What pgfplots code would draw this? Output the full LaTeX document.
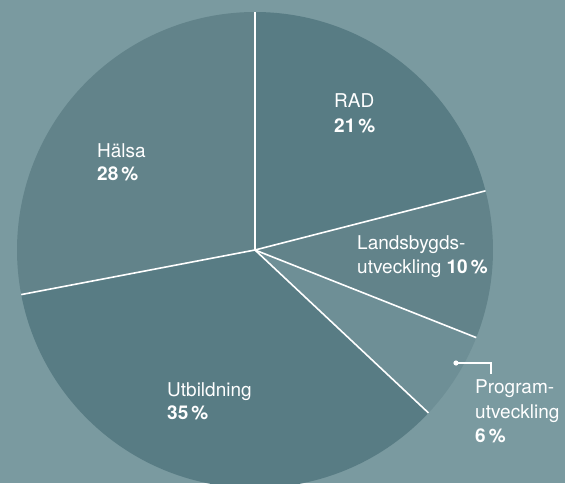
\documentclass[border=0pt]{standalone}
\usepackage{pgfplots}
\usepackage{pgfplotstable}
\pgfplotsset{compat=1.18}
\usepackage{fontspec}
\setmainfont{TeX Gyre Heros}
\definecolor{bgcol}{RGB}{122,154,160}
\definecolor{cdark}{RGB}{88,124,132}
\definecolor{cmid}{RGB}{98,131,138}
\definecolor{clight}{RGB}{110,143,150}
\pgfplotstableread{
label pct
RAD 21
Landsbygdsutveckling 10
Programutveckling 6
Utbildning 35
Halsa 28
}\piedata
\begin{document}
\begin{tikzpicture}
\pgfplotstablegetelem{0}{pct}\of\piedata \let\pA\pgfplotsretval
\pgfplotstablegetelem{1}{pct}\of\piedata \let\pB\pgfplotsretval
\pgfplotstablegetelem{2}{pct}\of\piedata \let\pC\pgfplotsretval
\pgfplotstablegetelem{3}{pct}\of\piedata \let\pD\pgfplotsretval
\pgfplotstablegetelem{4}{pct}\of\piedata \let\pE\pgfplotsretval
\pgfmathsetmacro\aA{90}
\pgfmathsetmacro\aB{\aA-3.6*\pA}
\pgfmathsetmacro\aC{\aB-3.6*\pB}
\pgfmathsetmacro\aD{\aC-3.6*\pC}
\pgfmathsetmacro\aE{\aD-3.6*\pD}
\pgfmathsetmacro\aF{\aE-3.6*\pE}
\def\R{238}
\begin{axis}[
  scale only axis, width=565pt, height=483pt,
  xmin=0, xmax=565, ymin=0, ymax=483,
  axis lines=none, ticks=none,
  axis background/.style={fill=bgcol},
  clip=true,
]
\fill[cdark]  (axis cs:255,233) -- ++(\aA:\R pt) arc[start angle=\aA, end angle=\aB, radius=\R pt] -- cycle;
\fill[cmid]   (axis cs:255,233) -- ++(\aB:\R pt) arc[start angle=\aB, end angle=\aC, radius=\R pt] -- cycle;
\fill[clight] (axis cs:255,233) -- ++(\aC:\R pt) arc[start angle=\aC, end angle=\aD, radius=\R pt] -- cycle;
\fill[cdark]  (axis cs:255,233) -- ++(\aD:\R pt) arc[start angle=\aD, end angle=\aE, radius=\R pt] -- cycle;
\fill[cmid]   (axis cs:255,233) -- ++(\aE:\R pt) arc[start angle=\aE, end angle=\aF, radius=\R pt] -- cycle;
\draw[white, line width=1.6pt] (axis cs:255,233) -- ++(\aA:\R pt);
\draw[white, line width=1.6pt] (axis cs:255,233) -- ++(\aB:\R pt);
\draw[white, line width=1.6pt] (axis cs:255,233) -- ++(\aC:\R pt);
\draw[white, line width=1.6pt] (axis cs:255,233) -- ++(\aD:\R pt);
\draw[white, line width=1.6pt] (axis cs:255,233) -- ++(\aE:\R pt);
\begin{scope}[every node/.style={text=white, anchor=base west, inner sep=0pt, font=\fontsize{19}{24}\selectfont}]
\node at (axis cs:334,375) {RAD};
\node at (axis cs:334,350) {\textbf{21\,\%}};
\node at (axis cs:97,326) {Hälsa};
\node at (axis cs:97,303) {\textbf{28\,\%}};
\node at (axis cs:357,234) {Landsbygds-};
\node at (axis cs:357,210) {utveckling \textbf{10\,\%}};
\node at (axis cs:167,87) {Utbildning};
\node at (axis cs:167,64) {\textbf{35\,\%}};
\node at (axis cs:475,90) {Program-};
\node at (axis cs:475,65) {utveckling};
\node at (axis cs:475,41) {\textbf{6\,\%}};
\end{scope}
\draw[white, line width=1.2pt] (axis cs:456,120) -- (axis cs:491,120) -- (axis cs:491,109);
\fill[white] (axis cs:456,120) circle[radius=2.6pt];
\end{axis}
\pgfresetboundingbox
\path (current axis.south west) rectangle (current axis.north east);
\end{tikzpicture}
\end{document}
